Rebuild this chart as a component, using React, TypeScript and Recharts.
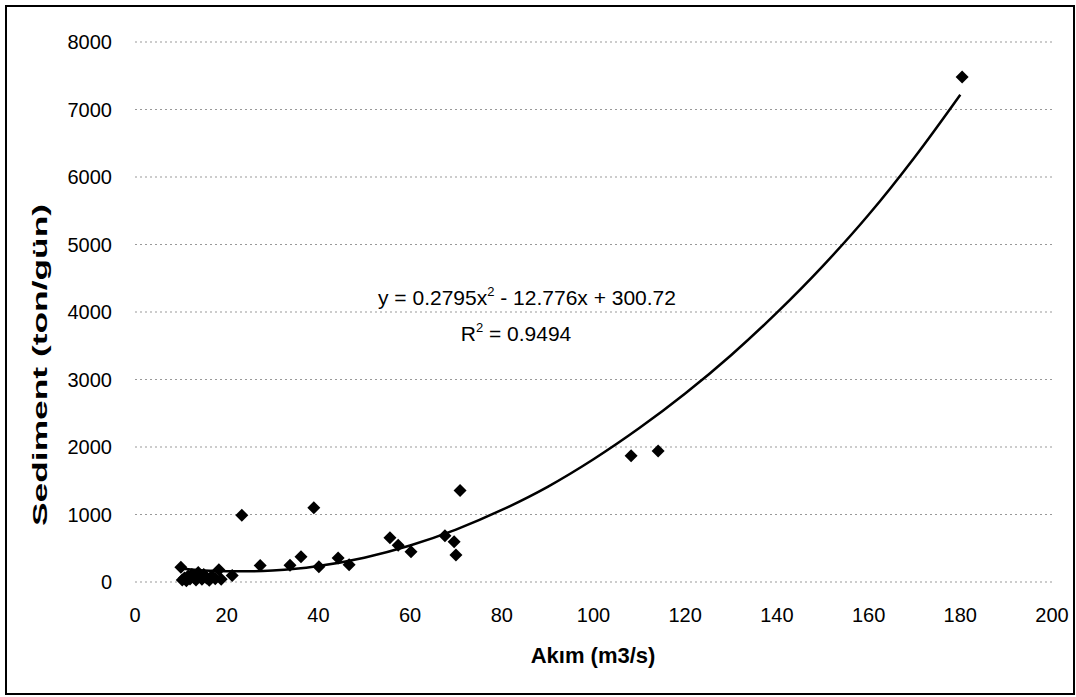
import { ScatterChart, Scatter, XAxis, YAxis, CartesianGrid, Label } from "recharts";

// measured points (Akım, Sediment)
const flow = [
  10.0, 10.3, 10.8, 11.2, 11.6, 12.0, 12.4, 12.8, 13.3, 13.8, 14.2, 14.6, 15.0, 15.6, 16.2, 16.8,
  17.5, 18.3, 18.8, 21.2, 23.3, 27.3, 33.8, 36.2, 39.0, 40.1, 44.3, 46.7, 55.6, 57.4, 60.2, 67.6,
  69.6, 70.0, 70.9, 108.2, 114.1, 180.4,
];
const sediment = [
  220, 30, 60, 20, 90, 45, 110, 70, 30, 140, 80, 40, 110, 60, 25, 90,
  50, 180, 40, 95, 990, 245, 250, 375, 1100, 225, 355, 255, 655, 545, 450, 685,
  595, 400, 1355, 1870, 1940, 7480,
];

// polynomial trendline
const trendFlow = [10, 15, 20, 25, 30, 35, 40, 50, 60, 70, 80, 90, 100, 110, 120, 130, 140, 150, 160, 170, 180];
const trendSediment = [200, 170, 160, 160, 170, 195, 237, 360, 540, 776, 1067, 1410, 1818, 2280, 2792, 3360, 3990, 4680, 5440, 6290, 7220];

const xTicks = [0, 20, 40, 60, 80, 100, 120, 140, 160, 180, 200];
const yTicks = [0, 1000, 2000, 3000, 4000, 5000, 6000, 7000, 8000];

const points = flow.map((x, i) => ({ x, y: sediment[i] }));
const trend = trendFlow.map((x, i) => ({ x, y: trendSediment[i] }));

const FONT = "'Liberation Sans', Arial, sans-serif";

const Diamond = (props: any) => {
  const { cx, cy } = props;
  if (cx == null || cy == null) return <g />;
  const r = 6.5;
  return <polygon points={`${cx},${cy - r} ${cx + r},${cy} ${cx},${cy + r} ${cx - r},${cy}`} fill="#000" />;
};

export default function App() {
  return (
    <div style={{ position: "absolute", left: 0, top: 0, width: 1076, height: 697, background: "#fff" }}>
      <div
        style={{
          position: "absolute",
          left: 5,
          top: 5,
          width: 1066,
          height: 686,
          border: "2px solid #000",
        }}
      />
      <ScatterChart width={1076} height={697} margin={{ top: 42, right: 24, bottom: 0, left: 0 }}>
        <CartesianGrid vertical={false} stroke="#999" strokeDasharray="2 3" />
        <XAxis
          type="number"
          dataKey="x"
          domain={[0, 200]}
          ticks={xTicks}
          interval={0}
          axisLine={false}
          tickLine={false}
          tickMargin={20}
          height={115}
          tick={{ fill: "#000", fontSize: 20, fontFamily: FONT }}
        >
          <Label
            content={() => (
              <text x={593} y={663} textAnchor="middle" fontFamily={FONT} fontSize={22} fontWeight="bold" fill="#000">
                Akım (m3/s)
              </text>
            )}
          />
        </XAxis>
        <YAxis
          type="number"
          dataKey="y"
          domain={[0, 8000]}
          ticks={yTicks}
          interval={0}
          axisLine={false}
          tickLine={false}
          tickMargin={17}
          width={135}
          tick={{ fill: "#000", fontSize: 20, fontFamily: FONT }}
        >
          <Label
            content={() => (
              <text
                x={0}
                y={0}
                transform="translate(47,365) rotate(-90)"
                textAnchor="middle"
                fontFamily={FONT}
                fontSize={21}
                fontWeight="bold"
                fill="#000"
                textLength={322}
                lengthAdjust="spacingAndGlyphs"
              >
                Sediment (ton/gün)
              </text>
            )}
          />
        </YAxis>
        <Scatter
          data={trend}
          line={{ stroke: "#000", strokeWidth: 2.5 }}
          lineJointType="monotoneX"
          shape={() => <g />}
          isAnimationActive={false}
          legendType="none"
        />
        <Scatter data={points} shape={Diamond} isAnimationActive={false} legendType="none" />
      </ScatterChart>
      <div
        style={{
          position: "absolute",
          left: 312,
          top: 280,
          width: 430,
          textAlign: "center",
          fontFamily: FONT,
          fontSize: 21,
          lineHeight: "36px",
          color: "#000",
        }}
      >
        <div>
          y = 0.2795x<sup style={{ fontSize: 13, verticalAlign: 9, lineHeight: 0 }}>2</sup> - 12.776x + 300.72
        </div>
        <div style={{ marginLeft: -22 }}>
          R<sup style={{ fontSize: 13, verticalAlign: 9, lineHeight: 0 }}>2</sup> = 0.9494
        </div>
      </div>
    </div>
  );
}
